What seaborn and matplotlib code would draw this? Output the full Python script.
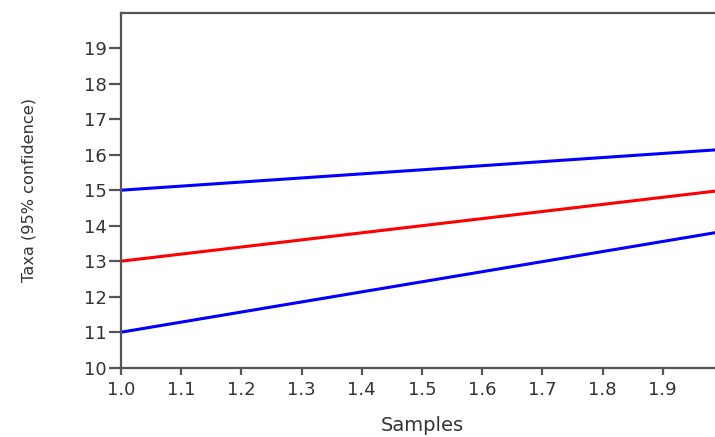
import matplotlib
matplotlib.use("Agg")
import matplotlib.pyplot as plt
import seaborn as sns
import pandas as pd

samples = [1.0, 2.0]
taxa_mean = [13.0, 15.0]
taxa_upper = [15.0, 16.15]
taxa_lower = [11.0, 13.84]
x_ticks = [1.0, 1.1, 1.2, 1.3, 1.4, 1.5, 1.6, 1.7, 1.8, 1.9]
y_ticks = [10, 11, 12, 13, 14, 15, 16, 17, 18, 19]

sns.set_style("white")
plt.rcParams['font.family'] = ['DejaVu Sans']

df = pd.DataFrame({
    "Samples": samples * 3,
    "Taxa": taxa_upper + taxa_mean + taxa_lower,
    "series": ["upper"] * 2 + ["mean"] * 2 + ["lower"] * 2,
})

fig = plt.figure(figsize=(7.15, 4.37), dpi=100)
ax = fig.add_axes([121 / 715, 69.3 / 437, (723 - 121) / 715, (367.7 - 12.7) / 437])
sns.lineplot(data=df, x="Samples", y="Taxa", hue="series",
             palette={"upper": "#0000ff", "mean": "#ff0000", "lower": "#0000ff"},
             linewidth=2.2, legend=False, ax=ax)

ax.set_xlim(1.0, 2.0)
ax.set_ylim(10, 20)
ax.set_xticks(x_ticks)
ax.set_xticklabels([f"{t:.1f}" for t in x_ticks])
ax.set_yticks(y_ticks)
ax.set_yticklabels([str(t) for t in y_ticks])
for s in ["left", "bottom", "top", "right"]:
    ax.spines[s].set_color("#555555")
    ax.spines[s].set_linewidth(1.6)
ax.tick_params(axis="x", direction="out", length=5, width=1.6,
               color="#555555", labelsize=13, labelcolor="#333333", pad=4.5,
               bottom=True)
ax.tick_params(axis="y", direction="out", length=8.5, width=1.6,
               color="#555555", labelsize=13, labelcolor="#333333", pad=2,
               left=True)
ax.set_xlabel("Samples", fontsize=14, color="#333333")
ax.set_ylabel("Taxa (95% confidence)", fontsize=11.6, color="#333333")
ax.xaxis.set_label_coords(0.5, -0.136)
ax.yaxis.set_label_coords(-0.141, 0.5)

fig.savefig("out.png", dpi=100)
